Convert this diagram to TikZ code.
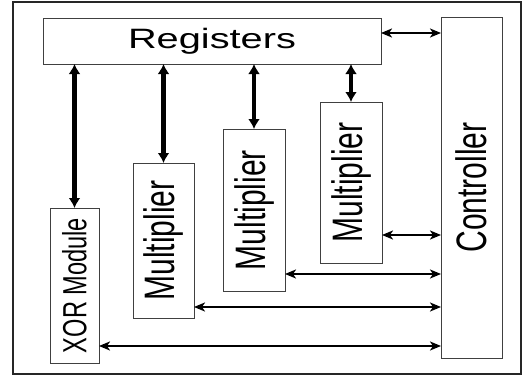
\documentclass[tikz,border=0pt]{standalone}
\usepackage{fontspec}
\setmainfont{Liberation Sans}
\usetikzlibrary{arrows.meta}

\tikzset{
  unit/.style={draw=black!75, line width=0.9pt, inner sep=0pt, outer sep=0pt},
  hlink/.style={line width=2.2pt, {Stealth[length=11pt,width=9pt,inset=3pt]}-{Stealth[length=11pt,width=9pt,inset=3pt]}},
  vlink/.style={line width=4.2pt, {Latex[length=10pt,width=12pt]}-{Latex[length=10pt,width=12pt]}}
}
% wide letters: the drawing is stretched sideways
\newcommand{\flatlabel}[2]{\fontsize{#1}{#1}\selectfont\scalebox{1.42}[1]{#2}}
\newcommand{\uplabel}[2]{\fontsize{#1}{#1}\selectfont\rotatebox{90}{\scalebox{1}[1.42]{#2}}}

\begin{document}
\begin{tikzpicture}[x=1pt,y=1pt]
        \useasboundingbox (0,0) rectangle (523,376);
        \draw[line width=1.3pt, draw=black!85] (13,2) rectangle (521,374);

        \node[unit, minimum width=338pt, minimum height=46pt] (regs) at (212,335) {\flatlabel{28}{Registers}};
        \node[unit, minimum width=61pt, minimum height=341pt] (ctrl) at (471.5,188.5) {\uplabel{30}{Controller}};
        \node[unit, minimum width=49pt, minimum height=155pt] (xor) at (74.5,90.5) {\uplabel{23.6}{XOR Module}};
        \node[unit, minimum width=61pt, minimum height=155pt] (mulA) at (163.5,135.5) {\uplabel{30}{Multiplier}};
        \node[unit, minimum width=62pt, minimum height=162pt] (mulB) at (254,166) {\uplabel{30}{Multiplier}};
        \node[unit, minimum width=62pt, minimum height=161pt] (mulC) at (351,193.5) {\uplabel{30}{Multiplier}};

        % registers to the units below
        \draw[vlink] (xor.north |- regs.south) -- (xor.north);
        \draw[vlink] (mulA.north |- regs.south) -- (mulA.north);
        \draw[vlink] (mulB.north |- regs.south) -- (mulB.north);
        \draw[vlink] (mulC.north |- regs.south) -- (mulC.north);

        % controller links
        \draw[hlink] ([yshift=8pt]regs.east) -- ([yshift=8pt]regs.east -| ctrl.west);
        \draw[hlink] ([yshift=28pt]mulC.south east) -- ([yshift=28pt]mulC.south east -| ctrl.west);
        \draw[hlink] ([yshift=17pt]mulB.south east) -- ([yshift=17pt]mulB.south east -| ctrl.west);
        \draw[hlink] ([yshift=11pt]mulA.south east) -- ([yshift=11pt]mulA.south east -| ctrl.west);
        \draw[hlink] ([yshift=17pt]xor.south east) -- ([yshift=17pt]xor.south east -| ctrl.west);

\end{tikzpicture}
\end{document}
